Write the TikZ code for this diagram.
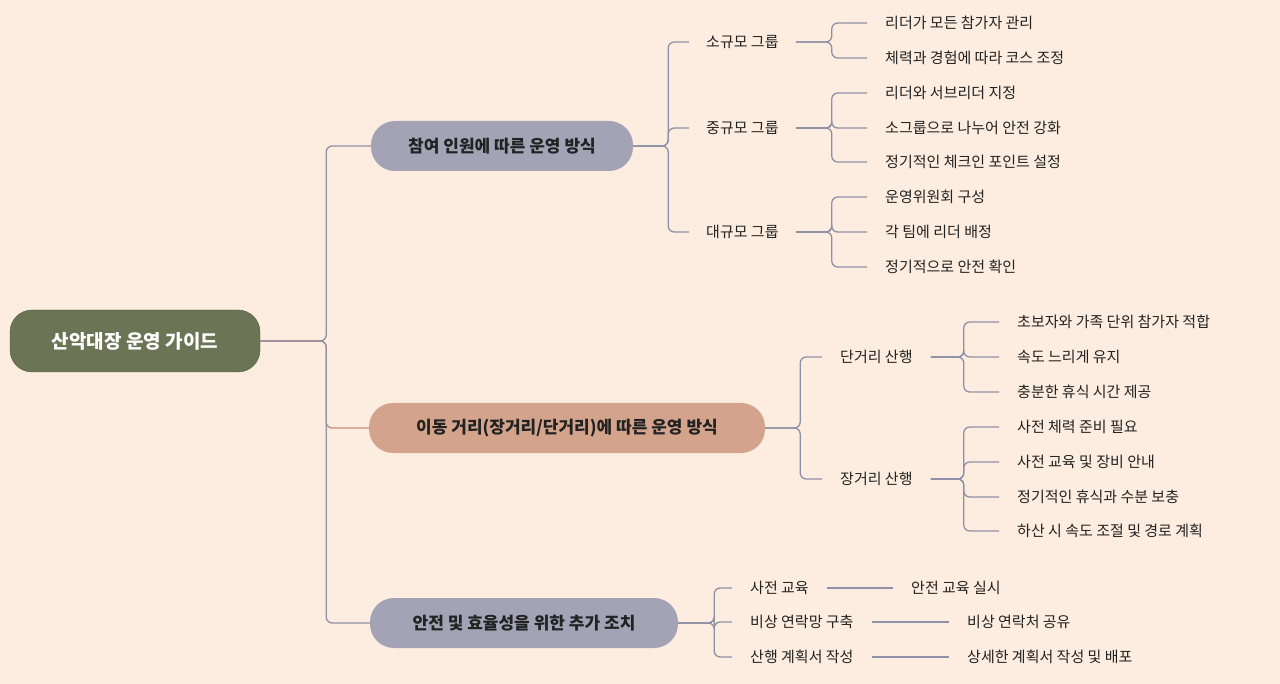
\documentclass[tikz,border=0pt]{standalone}
\usepackage{fontspec}
\setmainfont{Noto Sans CJK KR}
\definecolor{bg}{HTML}{FDEDE0}
\definecolor{rootc}{HTML}{6B7556}
\definecolor{grayc}{HTML}{A4A3B6}
\definecolor{brownc}{HTML}{D3A48B}
\definecolor{linec}{HTML}{8F90A6}
\definecolor{linebr}{HTML}{C98F76}
\definecolor{txt}{HTML}{222222}
\begin{document}
\begin{tikzpicture}[x=1pt,y=-1pt,
  ln/.style={draw=linec,line width=1.3pt,rounded corners=6pt},
  rootbox/.style={rounded corners=22pt,fill=rootc,draw=rootc!80!black,text=white,minimum width=250pt,minimum height=62pt,font=\fontsize{19}{22}\selectfont\bfseries},
  branchbox/.style={rounded corners=24pt,minimum height=50pt,text=txt,font=\fontsize{17}{20}\selectfont\bfseries,inner xsep=0pt},
  mid/.style={anchor=west,inner xsep=17pt,inner ysep=0pt,text=txt,font=\fontsize{15}{18}\selectfont},
  leaf/.style={anchor=west,inner xsep=18pt,inner ysep=0pt,text=txt,font=\fontsize{15}{18}\selectfont}]
\fill[bg] (0,0) rectangle (1280,684);
\useasboundingbox (0,0) rectangle (1280,684);
\node[rootbox] (root) at (135,341) {산악대장 운영 가이드};
\node[branchbox,fill=grayc,minimum width=262pt] (b1) at (502,146) {참여 인원에 따른 운영 방식};
\node[branchbox,fill=brownc,minimum width=396pt] (b2) at (567,428) {이동 거리(장거리/단거리)에 따른 운영 방식};
\node[branchbox,fill=grayc,minimum width=308pt] (b3) at (524,623) {안전 및 효율성을 위한 추가 조치};
\draw[ln] (root.east) -- ++(66,0) |- (b1.west);
\draw[ln,draw=linebr] (root.east) -- ++(66,0) |- (b2.west);
\draw[ln] (root.east) -- ++(66,0) |- (b3.west);
% branch 1
\node[mid] (m1) at (689,42) {소규모 그룹};
\node[mid] (m2) at (689,128) {중규모 그룹};
\node[mid] (m3) at (689,232) {대규모 그룹};
\foreach \m in {m1,m2,m3} \draw[ln] (b1.east) -- ++(35,0) |- (\m.west);
\node[leaf] (l11) at (867,23) {리더가 모든 참가자 관리};
\node[leaf] (l12) at (867,58) {체력과 경험에 따라 코스 조정};
\node[leaf] (l21) at (867,93) {리더와 서브리더 지정};
\node[leaf] (l22) at (867,128) {소그룹으로 나누어 안전 강화};
\node[leaf] (l23) at (867,162) {정기적인 체크인 포인트 설정};
\node[leaf] (l31) at (867,197) {운영위원회 구성};
\node[leaf] (l32) at (867,232) {각 팀에 리더 배정};
\node[leaf] (l33) at (867,267) {정기적으로 안전 확인};
\foreach \l in {l11,l12} \draw[ln] (m1.east) -- ++(36,0) |- (\l.west);
\foreach \l in {l21,l22,l23} \draw[ln] (m2.east) -- ++(36,0) |- (\l.west);
\foreach \l in {l31,l32,l33} \draw[ln] (m3.east) -- ++(36,0) |- (\l.west);
% branch 2
\node[mid,inner xsep=18pt] (n1) at (822,357) {단거리 산행};
\node[mid,inner xsep=18pt] (n2) at (822,479) {장거리 산행};
\foreach \m in {n1,n2} \draw[ln] (b2.east) -- ++(35,0) |- (\m.west);
\node[leaf] (k11) at (999,322) {초보자와 가족 단위 참가자 적합};
\node[leaf] (k12) at (999,357) {속도 느리게 유지};
\node[leaf] (k13) at (999,392) {충분한 휴식 시간 제공};
\node[leaf] (k21) at (999,427) {사전 체력 준비 필요};
\node[leaf] (k22) at (999,462) {사전 교육 및 장비 안내};
\node[leaf] (k23) at (999,497) {정기적인 휴식과 수분 보충};
\node[leaf] (k24) at (999,531) {하산 시 속도 조절 및 경로 계획};
\foreach \l in {k11,k12,k13} \draw[ln] (n1.east) -- ++(33,0) |- (\l.west);
\foreach \l in {k21,k22,k23,k24} \draw[ln] (n2.east) -- ++(33,0) |- (\l.west);
% branch 3
\node[mid,inner xsep=18pt] (p1) at (732,588) {사전 교육};
\node[mid,inner xsep=18pt] (p2) at (732,622) {비상 연락망 구축};
\node[mid,inner xsep=18pt] (p3) at (732,657) {산행 계획서 작성};
\foreach \m in {p1,p2,p3} \draw[ln] (b3.east) -- ++(36,0) |- (\m.west);
\node[leaf] (q1) at (893,588) {안전 교육 실시};
\node[leaf] (q2) at (949,622) {비상 연락처 공유};
\node[leaf] (q3) at (949,657) {상세한 계획서 작성 및 배포};
\draw[ln] (p1.east) -- (q1.west);
\draw[ln] (p2.east) -- (q2.west);
\draw[ln] (p3.east) -- (q3.west);
\end{tikzpicture}
\end{document}
